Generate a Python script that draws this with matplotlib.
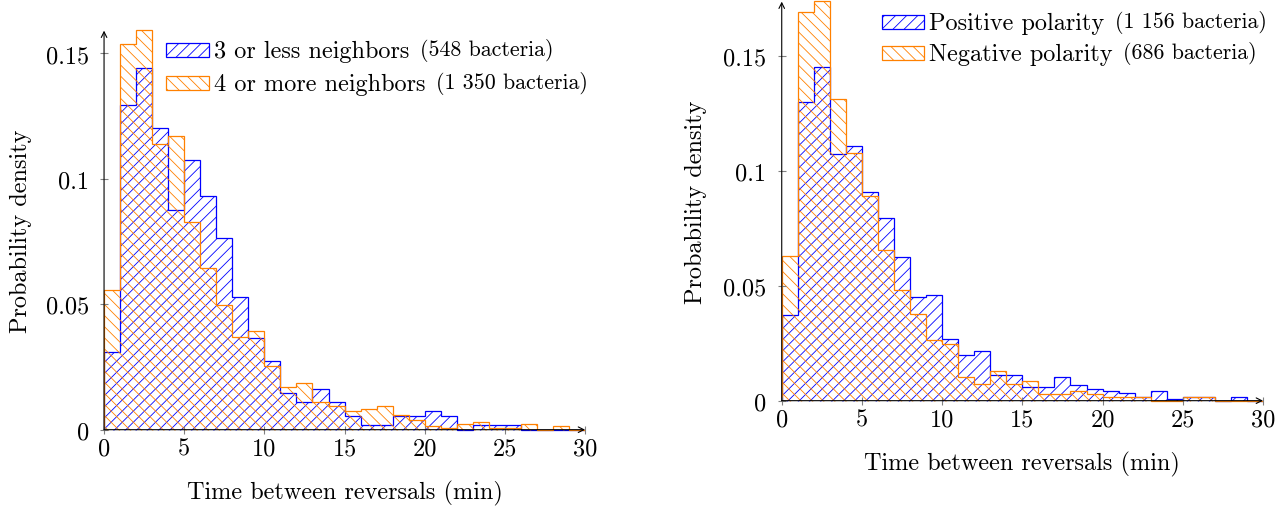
import matplotlib
matplotlib.use("Agg")
import matplotlib.pyplot as plt
from matplotlib.patches import Rectangle
import numpy as np

plt.rcParams["font.family"] = "cmr10"
plt.rcParams["axes.formatter.use_mathtext"] = True
plt.rcParams["hatch.linewidth"] = 0.6

# bin edges (minutes), one bin per minute
edges = np.arange(0, 31)

# left panel: number of neighbors
few_neighbors = [0.0310, 0.1296, 0.1442, 0.1204, 0.0876, 0.1077, 0.0931, 0.0766, 0.0529, 0.0365,
                 0.0274, 0.0146, 0.0109, 0.0164, 0.0109, 0.0055, 0.0018, 0.0018, 0.0055, 0.0055,
                 0.0073, 0.0055, 0.0, 0.0018, 0.0018, 0.0018, 0.0, 0.0, 0.0, 0.0]
many_neighbors = [0.0556, 0.1537, 0.1593, 0.1141, 0.1170, 0.0830, 0.0644, 0.0496, 0.0370, 0.0393,
                  0.0252, 0.0170, 0.0185, 0.0111, 0.0096, 0.0074, 0.0081, 0.0096, 0.0059, 0.0037,
                  0.0015, 0.0007, 0.0022, 0.0030, 0.0007, 0.0007, 0.0022, 0.0, 0.0015, 0.0]

# right panel: polarity
positive = [0.0372, 0.1298, 0.1453, 0.1073, 0.1107, 0.0908, 0.0796, 0.0623, 0.0450, 0.0458,
            0.0268, 0.0199, 0.0216, 0.0112, 0.0112, 0.0061, 0.0061, 0.0104, 0.0069, 0.0052,
            0.0043, 0.0035, 0.0017, 0.0043, 0.0009, 0.0017, 0.0017, 0.0, 0.0017, 0.0]
negative = [0.0627, 0.1691, 0.1738, 0.1312, 0.1079, 0.0889, 0.0656, 0.0481, 0.0379, 0.0262,
            0.0248, 0.0102, 0.0073, 0.0131, 0.0073, 0.0087, 0.0029, 0.0029, 0.0044, 0.0029,
            0.0015, 0.0015, 0.0015, 0.0, 0.0, 0.0015, 0.0015, 0.0, 0.0, 0.0]

left_labels = [("3 or less neighbors", "(548 bacteria)"),
               ("4 or more neighbors", "(1 350 bacteria)")]
right_labels = [("Positive polarity", "(1 156 bacteria)"),
                ("Negative polarity", "(686 bacteria)")]

xticks = [0, 5, 10, 15, 20, 25, 30]
yticks = [0, 0.05, 0.1, 0.15]
ytick_labels = ["0", "0.05", "0.1", "0.15"]

BLUE = (0, 0, 1)
ORANGE = (1, 0.5, 0)
FS = 17.5
FS_SMALL = 15.8


def setup_axis(ax, ytop):
    ax.set_xlim(0, 30)
    ax.set_ylim(0, ytop)
    for s in ax.spines.values():
        s.set_visible(False)
    ax.set_xticks(xticks)
    ax.set_xticklabels([str(t) for t in xticks])
    ax.set_yticks(yticks)
    ax.set_yticklabels(ytick_labels)
    ax.tick_params(direction="inout", length=6, width=0.8, color="gray",
                   labelsize=FS, labelcolor="black")
    ax.tick_params(axis="x", pad=2.5)
    ax.tick_params(axis="y", pad=8)
    arrow = dict(arrowstyle="->", lw=0.8, color="black", shrinkA=0, shrinkB=0,
                 mutation_scale=10)
    ax.annotate("", xy=(1, 0), xytext=(0, 0), xycoords="axes fraction",
                arrowprops=arrow, zorder=5)
    ax.annotate("", xy=(0, 1), xytext=(0, 0), xycoords="axes fraction",
                arrowprops=arrow, zorder=5)
    ax.set_xlabel("Time between reversals (min)", fontsize=FS)
    ax.set_ylabel("Probability density", fontsize=FS)
    ax.xaxis.set_label_coords(0.5, -0.125)


def hist(ax, vals, color, hatch):
    ax.stairs(vals, edges, fill=True, facecolor="none", edgecolor=color,
              hatch=hatch, linewidth=0.9, clip_on=False)


def legend_entry(ax, x, y, w, h, color, hatch, label, extra):
    ax.add_patch(Rectangle((x, y), w, h, transform=ax.transAxes, facecolor="none",
                           edgecolor=color, hatch=hatch, lw=0.9, clip_on=False))
    t = ax.text(x + w + 0.01, y, label, transform=ax.transAxes, fontsize=FS,
                va="baseline", ha="left")
    ax.annotate(extra, xy=(1, 0), xycoords=t, xytext=(7.5, 0.6),
                textcoords="offset points", fontsize=FS_SMALL, va="bottom", ha="left")


fig = plt.figure(figsize=(12.83, 5.10), dpi=100)
ax1 = fig.add_axes([0.0811, 0.1555, 0.3749, 0.7824])
ax2 = fig.add_axes([0.6093, 0.2124, 0.3751, 0.7824])

hist(ax1, few_neighbors, BLUE, "///")
hist(ax1, many_neighbors, ORANGE, "\\\\\\")
setup_axis(ax1, 0.1591)
ax1.yaxis.set_label_coords(-0.15, 0.5)
legend_entry(ax1, 0.129, 0.935, 0.0894, 0.0351, BLUE, "///", *left_labels[0])
legend_entry(ax1, 0.129, 0.852, 0.0894, 0.0351, ORANGE, "\\\\\\", *left_labels[1])

hist(ax2, positive, BLUE, "///")
hist(ax2, negative, ORANGE, "\\\\\\")
setup_axis(ax2, 0.1735)
ax2.yaxis.set_label_coords(-0.155, 0.5)
legend_entry(ax2, 0.209, 0.932, 0.0873, 0.0351, BLUE, "///", *right_labels[0])
legend_entry(ax2, 0.209, 0.853, 0.0873, 0.0351, ORANGE, "\\\\\\", *right_labels[1])

fig.savefig("out.png", dpi=100)
